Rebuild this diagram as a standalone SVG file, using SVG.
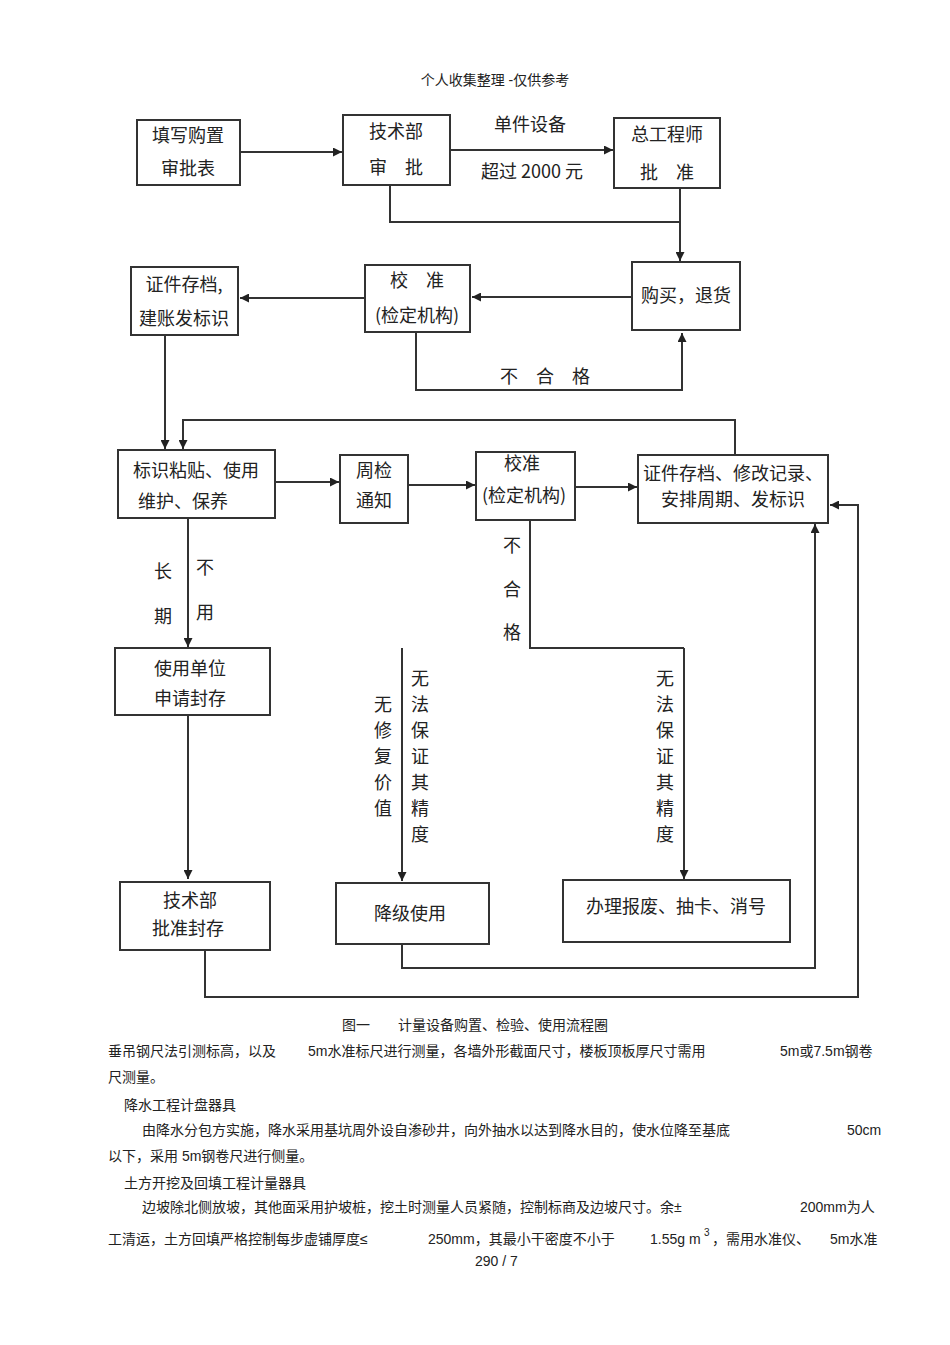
<svg xmlns="http://www.w3.org/2000/svg" width="950" height="1345" viewBox="0 0 950 1345">
<defs>
<marker id="ah" viewBox="0 0 10 10" refX="10" refY="5" markerWidth="9" markerHeight="9" markerUnits="userSpaceOnUse" orient="auto"><path d="M0,0L10,5L0,10z" fill="#222"/></marker>
<style>
.b{fill:#fff;stroke:#333;stroke-width:2}
.t{font-family:"Noto Sans CJK SC","Liberation Sans",sans-serif;font-size:18px;fill:#222;text-anchor:middle}
.s{font-family:"Liberation Sans","Noto Sans CJK SC",sans-serif;font-size:14px;fill:#222}
#c path{fill:none;stroke:#333;stroke-width:2}
.a{marker-end:url(#ah)}
</style>
</defs>
<rect width="950" height="1345" fill="#fff"/>
<text class="s" x="495" y="85" text-anchor="middle">个人收集整理  -仅供参考</text>
<g id="c">
<path class="a" d="M240,152H342"/>
<path class="a" d="M450,150H613"/>
<path d="M390,185V222H680"/>
<path class="a" d="M680,188V261"/>
<path class="a" d="M632,297H472"/>
<path class="a" d="M365,298H240"/>
<path class="a" d="M416,332V390H682V333"/>
<path class="a" d="M165,335V449"/>
<path class="a" d="M735,455V420H183V449"/>
<path class="a" d="M275,482H339"/>
<path class="a" d="M408,485H475"/>
<path class="a" d="M575,487H637"/>
<path class="a" d="M188,518V647"/>
<path class="a" d="M188,715V879"/>
<path d="M530,520V648H684"/>
<path class="a" d="M402,648V881"/>
<path class="a" d="M684,648V879"/>
<path class="a" d="M402,944V968H815V524"/>
<path class="a" d="M205,950V997H858V505H830"/>
</g>
<g id="n1"><rect class="b" x="137" y="120" width="103" height="65"/><text class="t" x="188" y="142">填写购置</text><text class="t" x="188" y="175">审批表</text></g>
<g id="n2"><rect class="b" x="343" y="115" width="107" height="70"/><text class="t" x="396" y="138">技术部</text><text class="t" x="396" y="174">审　批</text></g>
<text class="t" x="530" y="131">单件设备</text>
<text class="t" x="532" y="178">超过 2000 元</text>
<g id="n3"><rect class="b" x="614" y="118" width="106" height="70"/><text class="t" x="667" y="141">总工程师</text><text class="t" x="667" y="179">批　准</text></g>
<g id="n4"><rect class="b" x="632" y="262" width="108" height="68"/><text class="t" x="686" y="302">购买，退货</text></g>
<g id="n5"><rect class="b" x="365" y="265" width="105" height="67"/><text class="t" x="417" y="287">校　准</text><text class="t" x="417" y="322">(检定机构)</text></g>
<g id="n6"><rect class="b" x="131" y="267" width="107" height="68"/><text class="t" x="184" y="291">证件存档,</text><text class="t" x="184" y="325">建账发标识</text></g>
<text class="t" x="545" y="383">不　合　格</text>
<g id="n7"><rect class="b" x="118" y="450" width="157" height="68"/><text class="t" x="196" y="477">标识粘贴、使用</text><text class="t" x="183" y="508">维护、保养</text></g>
<g id="n8"><rect class="b" x="340" y="455" width="68" height="68"/><text class="t" x="374" y="477">周检</text><text class="t" x="374" y="507">通知</text></g>
<g id="n9"><rect class="b" x="476" y="452" width="99" height="68"/><text class="t" x="522" y="470">校准</text><text class="t" x="524" y="502">(检定机构)</text></g>
<g id="n10"><rect class="b" x="638" y="455" width="190" height="68"/><text class="t" x="733" y="480" font-size="17">证件存档、修改记录、</text><text class="t" x="733" y="506" font-size="17">安排周期、发标识</text></g>
<g class="t"><text x="163" y="578">长</text><text x="163" y="623">期</text><text x="205" y="574">不</text><text x="205" y="619">用</text>
<text x="512" y="552">不</text><text x="512" y="596">合</text><text x="512" y="639">格</text>
<text x="383" y="711">无</text><text x="383" y="737">修</text><text x="383" y="763">复</text><text x="383" y="789">价</text><text x="383" y="815">值</text>
<text x="420" y="685">无</text><text x="420" y="711">法</text><text x="420" y="737">保</text><text x="420" y="763">证</text><text x="420" y="789">其</text><text x="420" y="815">精</text><text x="420" y="841">度</text>
<text x="665" y="685">无</text><text x="665" y="711">法</text><text x="665" y="737">保</text><text x="665" y="763">证</text><text x="665" y="789">其</text><text x="665" y="815">精</text><text x="665" y="841">度</text></g>
<g id="n11"><rect class="b" x="115" y="648" width="155" height="67"/><text class="t" x="190" y="675">使用单位</text><text class="t" x="190" y="705">申请封存</text></g>
<g id="n12"><rect class="b" x="120" y="882" width="150" height="68"/><text class="t" x="190" y="907">技术部</text><text class="t" x="188" y="935">批准封存</text></g>
<g id="n13"><rect class="b" x="336" y="883" width="153" height="61"/><text class="t" x="410" y="920">降级使用</text></g>
<g id="n14"><rect class="b" x="563" y="880" width="227" height="62"/><text class="t" x="676" y="913">办理报废、抽卡、消号</text></g>
<g class="s">
<text x="342" y="1030">图一　　计量设备购置、检验、使用流程圈</text>
<text x="108" y="1056">垂吊钢尺法引测标高，以及</text>
<text x="308" y="1056">5m水准标尺进行测量，各墙外形截面尺寸，楼板顶板厚尺寸需用</text>
<text x="780" y="1056">5m或7.5m钢卷</text>
<text x="108" y="1082">尺测量。</text>
<text x="124" y="1110">降水工程计盘器具</text>
<text x="142" y="1135">由降水分包方实施，降水采用基坑周外设自渗砂井，向外抽水以达到降水目的，使水位降至基底</text>
<text x="847" y="1135">50cm</text>
<text x="108" y="1161">以下，采用  5m钢卷尺进行侧量。</text>
<text x="124" y="1188">土方开挖及回填工程计量器具</text>
<text x="142" y="1212">边坡除北侧放坡，其他面采用护坡桩，挖土时测量人员紧随，控制标商及边坡尺寸。余±</text>
<text x="800" y="1212">200mm为人</text>
<text x="108" y="1244">工清运，土方回填严格控制每步虚铺厚度≤</text>
<text x="428" y="1244">250mm，其最小干密度不小于</text>
<text x="650" y="1244">1.55g m</text>
<text x="704" y="1236" font-size="10">3</text>
<text x="712" y="1244">，需用水准仪、</text>
<text x="830" y="1244">5m水准</text>
<text x="475" y="1266">290 / 7</text>
</g>
</svg>
